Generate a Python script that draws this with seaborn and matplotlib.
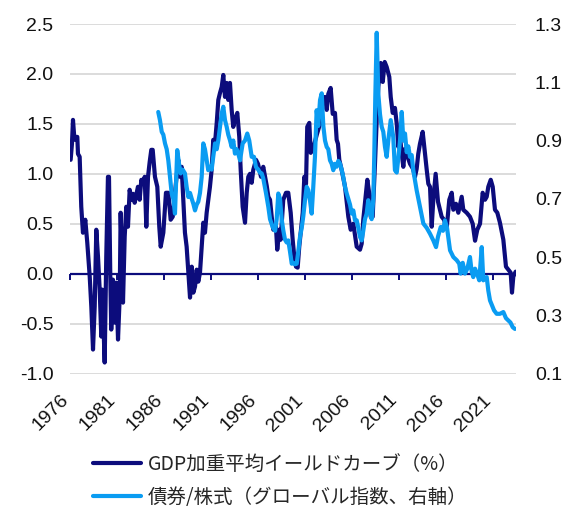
import numpy as np
import pandas as pd
import matplotlib
matplotlib.use("Agg")
import matplotlib.pyplot as plt
import matplotlib.transforms as mtransforms
import seaborn as sns

# GDP-weighted yield curve (%), left axis
curve_year = [
    1976.07, 1976.21, 1976.32, 1976.43, 1976.56, 1976.78, 1976.85, 1977.03, 1977.20, 1977.38,
    1977.63, 1977.84, 1978.10, 1978.27, 1978.45, 1978.63, 1978.80, 1978.98, 1979.16, 1979.33,
    1979.44, 1979.69, 1979.86, 1980.04, 1980.15, 1980.29, 1980.39, 1980.57, 1980.76, 1980.93,
    1981.11, 1981.29, 1981.39, 1981.64, 1981.82, 1981.99, 1982.17, 1982.35, 1982.52, 1982.70,
    1982.88, 1983.23, 1983.41, 1983.59, 1983.77, 1983.95, 1984.12, 1984.30, 1984.48, 1984.65,
    1984.80, 1985.04, 1985.29, 1985.50, 1985.65, 1985.93, 1986.21, 1986.46, 1986.71, 1986.93,
    1987.17, 1987.52, 1987.70, 1987.88, 1988.05, 1988.23, 1988.41, 1988.59, 1988.77, 1988.95,
    1989.12, 1989.30, 1989.48, 1989.65, 1989.83, 1990.01, 1990.18, 1990.36, 1990.54, 1990.71,
    1990.89, 1991.07, 1991.24, 1991.43, 1991.61, 1991.78, 1991.96, 1992.14, 1992.31, 1992.49,
    1992.67, 1992.84, 1993.02, 1993.20, 1993.37, 1993.55, 1993.80, 1994.01, 1994.16, 1994.37,
    1994.62, 1994.80, 1994.97, 1995.15, 1995.33, 1995.50, 1995.79, 1996.00, 1996.32, 1996.56,
    1996.93, 1997.10, 1997.28, 1997.46, 1997.63, 1997.91, 1998.05, 1998.27, 1998.41, 1998.69,
    1998.98, 1999.22, 1999.48, 1999.69, 1999.86, 2000.04, 2000.22, 2000.39, 2000.54, 2000.76,
    2000.93, 2001.11, 2001.24, 2001.46, 2001.61, 2001.85, 2002.28, 2002.60, 2002.81, 2003.13,
    2003.31, 2003.48, 2003.73, 2003.95, 2004.19, 2004.37, 2004.51, 2004.65, 2004.90, 2005.26,
    2005.61, 2005.86, 2006.14, 2006.50, 2006.85, 2007.03, 2007.20, 2007.63, 2007.84, 2007.99,
    2008.20, 2008.45, 2008.63, 2008.80, 2009.05, 2009.27, 2009.48, 2009.69, 2009.97, 2010.12,
    2010.33, 2010.57, 2010.76, 2010.93, 2011.11, 2011.29, 2011.46, 2011.64, 2011.99, 2012.17,
    2012.49, 2012.70, 2012.88, 2013.05, 2013.23, 2013.52, 2013.71, 2013.95, 2014.12, 2014.30,
    2014.48, 2014.65, 2014.90, 2015.15, 2015.36, 2015.54, 2015.79, 2016.07, 2016.35, 2016.61,
    2016.78, 2017.06, 2017.31, 2017.67, 2017.84, 2018.20, 2018.55, 2018.84, 2019.09, 2019.33,
    2019.62, 2019.90, 2020.15, 2020.33, 2020.50, 2020.76, 2020.97, 2021.21, 2021.46, 2021.74,
    2022.10, 2022.38, 2022.63, 2022.88, 2023.02, 2023.16, 2023.41,
]
curve_value = [
    1.14, 1.30, 1.54, 1.40, 1.34, 1.37, 1.20, 1.17, 0.67, 0.41,
    0.54, 0.31, -0.03, -0.33, -0.76, -0.33, 0.44, 0.17, -0.16, -0.63,
    -0.16, -0.89, 0.17, 0.97, 0.97, -0.03, -0.56, -0.06, -0.49, -0.09,
    -0.66, -0.23, 0.61, -0.29, 0.37, 0.67, 0.47, 0.84, 0.74, 0.80,
    0.71, 0.87, 0.74, 0.94, 0.90, 0.97, 0.47, 0.97, 1.12, 1.24,
    1.24, 0.97, 0.87, 0.47, 0.27, 0.41, 0.81, 0.81, 0.54, 0.57,
    0.81, 1.14, 0.97, 1.07, 0.74, 0.41, 0.27, 0.01, -0.24, 0.07,
    -0.19, -0.13, 0.04, -0.08, 0.01, 0.27, 0.51, 0.41, 0.61, 0.74,
    0.87, 1.04, 1.34, 1.31, 1.51, 1.74, 1.81, 1.87, 1.99, 1.77,
    1.91, 1.74, 1.91, 1.64, 1.47, 1.54, 1.61, 1.37, 1.04, 0.67,
    0.51, 0.81, 0.97, 1.00, 0.91, 1.04, 1.14, 1.10, 0.97, 1.07,
    0.88, 0.77, 0.74, 0.57, 0.44, 0.47, 0.24, 0.44, 0.34, 0.74,
    0.81, 0.81, 0.61, 0.34, 0.17, 0.07, 0.06, 0.27, 0.41, 0.61,
    0.97, 0.90, 1.47, 1.51, 1.21, 1.25, 1.40, 1.50, 1.70, 1.77,
    1.64, 1.80, 1.86, 1.60, 1.61, 1.34, 1.30, 1.14, 1.04, 0.87,
    0.57, 0.44, 0.50, 0.27, 0.24, 0.30, 0.54, 0.94, 0.80, 0.57,
    0.57, 1.11, 1.54, 1.87, 2.11, 1.92, 2.12, 2.07, 1.97, 1.77,
    1.61, 1.66, 1.50, 1.27, 1.37, 1.20, 1.07, 1.25, 1.15, 1.10,
    1.05, 0.97, 1.05, 1.20, 1.30, 1.42, 1.25, 1.04, 0.90, 0.87,
    0.47, 0.74, 1.00, 0.72, 0.64, 0.57, 0.54, 0.45, 0.74, 0.81,
    0.64, 0.70, 0.61, 0.77, 0.64, 0.61, 0.57, 0.50, 0.33, 0.44,
    0.50, 0.81, 0.74, 0.77, 0.87, 0.94, 0.87, 0.64, 0.61, 0.51,
    0.34, 0.07, 0.04, 0.01, -0.19, -0.03, 0.02,
]

# Bond / equity ratio (global indices), right axis
ratio_year = [
    1985.39, 1985.57, 1985.76, 1985.93, 1986.11, 1986.29, 1986.46, 1986.64, 1986.82, 1986.99,
    1987.17, 1987.28, 1987.41, 1987.60, 1987.78, 1987.99, 1988.23, 1988.41, 1988.59, 1988.77,
    1988.95, 1989.12, 1989.30, 1989.48, 1989.65, 1989.83, 1990.01, 1990.18, 1990.36, 1990.54,
    1990.71, 1990.89, 1991.07, 1991.24, 1991.43, 1991.61, 1991.78, 1991.96, 1992.14, 1992.31,
    1992.49, 1992.67, 1992.84, 1993.02, 1993.20, 1993.37, 1993.55, 1993.73, 1993.90, 1994.09,
    1994.37, 1994.62, 1994.86, 1995.07, 1995.33, 1995.57, 1995.79, 1996.03, 1996.21, 1996.39,
    1996.56, 1996.85, 1997.10, 1997.28, 1997.56, 1997.82, 1997.99, 1998.16, 1998.34, 1998.52,
    1998.69, 1998.87, 1999.05, 1999.22, 1999.40, 1999.59, 1999.76, 1999.94, 2000.12, 2000.29,
    2000.47, 2000.65, 2000.82, 2001.00, 2001.18, 2001.35, 2001.53, 2001.71, 2001.88, 2002.06,
    2002.24, 2002.41, 2002.60, 2002.78, 2002.95, 2003.13, 2003.31, 2003.48, 2003.66, 2003.84,
    2004.01, 2004.19, 2004.37, 2004.54, 2004.72, 2004.90, 2005.07, 2005.26, 2005.44, 2005.61,
    2005.79, 2005.97, 2006.14, 2006.32, 2006.50, 2006.67, 2006.85, 2007.03, 2007.20, 2007.38,
    2007.56, 2007.73, 2007.91, 2008.09, 2008.27, 2008.37, 2008.48, 2008.63, 2008.80, 2008.98,
    2009.16, 2009.33, 2009.51, 2009.69, 2009.86, 2010.12, 2010.39, 2010.57, 2010.76, 2010.93,
    2011.11, 2011.29, 2011.46, 2011.64, 2011.82, 2011.99, 2012.17, 2012.35, 2012.52, 2012.88,
    2013.23, 2013.59, 2013.95, 2014.30, 2014.65, 2014.94, 2015.15, 2015.44, 2015.68, 2015.89,
    2016.11, 2016.43, 2016.78, 2017.14, 2017.41, 2017.56, 2017.78, 2018.02, 2018.27, 2018.55,
    2018.73, 2018.90, 2019.09, 2019.33, 2019.54, 2019.80, 2019.97, 2020.33, 2020.50, 2020.68,
    2021.11, 2021.39, 2021.74, 2022.10, 2022.38, 2022.63, 2022.86, 2023.10, 2023.34,
]
ratio_value = [
    0.998, 0.97, 0.93, 0.92, 0.89, 0.87, 0.832, 0.775, 0.718, 0.70,
    0.649, 0.75, 0.867, 0.82, 0.787, 0.80, 0.787, 0.741, 0.706, 0.72,
    0.70, 0.683, 0.660, 0.68, 0.69, 0.72, 0.775, 0.890, 0.87, 0.832,
    0.798, 0.81, 0.80, 0.844, 0.890, 0.87, 0.901, 0.947, 0.993, 1.016,
    0.97, 0.947, 0.92, 0.901, 0.878, 0.90, 0.855, 0.87, 0.855, 0.832,
    0.890, 0.90, 0.924, 0.90, 0.844, 0.844, 0.809, 0.80, 0.79, 0.787,
    0.77, 0.72, 0.672, 0.63, 0.603, 0.59, 0.63, 0.718, 0.70, 0.63,
    0.592, 0.56, 0.55, 0.557, 0.52, 0.477, 0.48, 0.475, 0.477, 0.52,
    0.569, 0.60, 0.64, 0.695, 0.741, 0.73, 0.695, 0.649, 0.74, 0.844,
    1.004, 0.95, 1.039, 1.062, 0.95, 0.90, 0.878, 0.87, 0.832, 0.82,
    0.798, 0.82, 0.81, 0.83, 0.821, 0.80, 0.775, 0.74, 0.718, 0.70,
    0.68, 0.649, 0.66, 0.626, 0.626, 0.60, 0.569, 0.557, 0.59, 0.63,
    0.649, 0.695, 0.66, 0.63, 0.70, 0.85, 1.05, 1.27, 1.06, 0.99,
    0.947, 0.93, 0.878, 0.844, 0.90, 0.97, 0.912, 0.798, 0.79, 0.84,
    0.90, 0.998, 0.90, 0.924, 0.86, 0.88, 0.844, 0.85, 0.798, 0.729,
    0.672, 0.615, 0.60, 0.58, 0.557, 0.534, 0.57, 0.603, 0.59, 0.626,
    0.60, 0.523, 0.50, 0.489, 0.477, 0.443, 0.48, 0.443, 0.46, 0.50,
    0.45, 0.431, 0.46, 0.44, 0.42, 0.534, 0.42, 0.431, 0.385, 0.351,
    0.317, 0.305, 0.305, 0.311, 0.29, 0.282, 0.275, 0.259, 0.253,
]

year_ticks = [1976, 1981, 1986, 1991, 1996, 2001, 2006, 2011, 2016, 2021]
left_ticks = [-1.0, -0.5, 0.0, 0.5, 1.0, 1.5, 2.0, 2.5]
right_ticks = [0.1, 0.3, 0.5, 0.7, 0.9, 1.1, 1.3]
series_labels = ["GDP加重平均イールドカーブ（%）", "債券/株式（グローバル指数、右軸）"]

NAVY = "#0C0C7C"
SKY = "#0A9CF2"
GRID = "#D9D9D9"
TEXT = "#111111"

sns.set_theme(style="white")
plt.rcParams["font.family"] = ["Liberation Sans", "DejaVu Sans"]

fig = plt.figure(figsize=(5.68, 5.09), dpi=100)
ax = fig.add_axes([0.1232, 0.2662, 0.7853, 0.6866])
ax2 = ax.twinx()

curve = pd.DataFrame({"year": curve_year, "value": curve_value})
ratio = pd.DataFrame({"year": ratio_year, "value": ratio_value})

# zero line of the left axis
ax.axhline(0, color=NAVY, lw=1.6, zorder=2)

sns.lineplot(data=curve, x="year", y="value", ax=ax, color=NAVY, lw=3.0,
             sort=False, estimator=None, legend=False, zorder=3)
sns.lineplot(data=ratio, x="year", y="value", ax=ax2, color=SKY, lw=3.0,
             sort=False, estimator=None, legend=False, zorder=3)
for line in ax.lines[1:] + ax2.lines:
    line.set_solid_joinstyle("round")
    line.set_solid_capstyle("round")

ax.set_xlim(1976, 2023.45)
ax.set_ylim(-1.0, 2.5)
ax2.set_ylim(0.1, 1.3)

# left axis: gridlines and labels
ax.set_yticks(left_ticks)
ax.set_yticklabels([f"{v:.1f}" for v in left_ticks])
ax.yaxis.grid(True, color=GRID, lw=1.3)
ax.xaxis.grid(False)
ax.set_axisbelow(True)
ax.tick_params(axis="y", length=0, pad=12, labelsize=14, colors=TEXT)

# right axis labels
ax2.set_yticks(right_ticks)
ax2.set_yticklabels([f"{v:.1f}" for v in right_ticks])
ax2.tick_params(axis="y", length=0, pad=13.5, labelsize=14, colors=TEXT)
ax2.grid(False)

for a in (ax, ax2):
    for s in a.spines.values():
        s.set_visible(False)
    a.set_xlabel("")
    a.set_ylabel("")

# year labels along the bottom
ax.set_xticks(year_ticks)
ax.set_xticklabels([str(y) for y in year_ticks], rotation=45, ha="right", va="top")
ax.tick_params(axis="x", length=0, pad=13, labelsize=14, colors=TEXT)
shift = mtransforms.ScaledTranslation(0.02, 0, fig.dpi_scale_trans)
for lbl in ax.get_xticklabels():
    lbl.set_transform(lbl.get_transform() + shift)

# tick marks hanging from the zero line
zero_frac = (0 - (-1.0)) / (2.5 - (-1.0))
zax = ax.secondary_xaxis(zero_frac)
zax.set_xticks(year_ticks)
zax.set_xticklabels([])
zax.tick_params(axis="x", bottom=True, top=False, direction="out", length=4.5,
                width=1.4, color=NAVY)
for s in zax.spines.values():
    s.set_visible(False)

# legend below the chart
handles = [plt.Line2D([], [], color=NAVY, lw=3.0),
           plt.Line2D([], [], color=SKY, lw=3.0)]
fig.legend(handles, series_labels, loc="upper left", bbox_to_anchor=(0.163, 0.108),
           frameon=False, borderpad=0, borderaxespad=0, handlelength=2.5,
           handletextpad=0.35, labelspacing=0.6,
           prop={"family": ["Noto Sans CJK JP", "DejaVu Sans"], "size": 14})

fig.savefig("out.png", dpi=100)
